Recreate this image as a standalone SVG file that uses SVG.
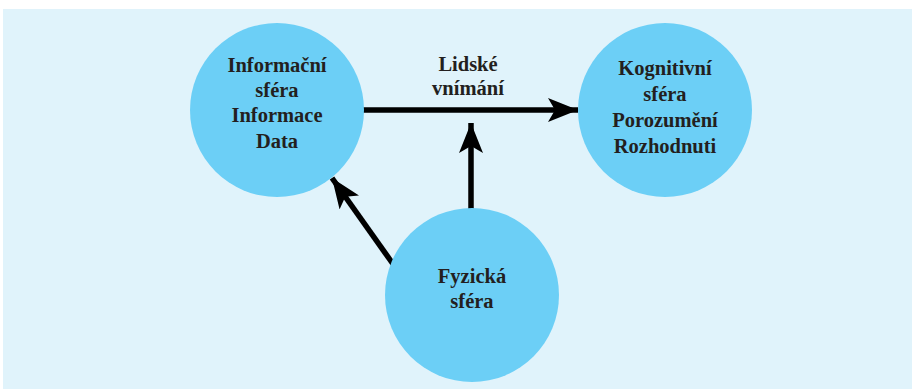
<svg xmlns="http://www.w3.org/2000/svg" width="912" height="389" viewBox="0 0 912 389">
<style>
.n{fill:#6ccff6}
.t{font-family:"Liberation Serif","Times New Roman",serif;font-weight:bold;font-size:20.5px;fill:#231f20;text-anchor:middle}
.c{stroke:#000;stroke-width:5.5;fill:none}
</style>
<defs>
<marker id="ah" viewBox="0 0 30 24" refX="30" refY="12" markerWidth="30" markerHeight="24" markerUnits="userSpaceOnUse" orient="auto">
<path d="M0,0 L30,12 L0,24 L7,12 Z" fill="#000"/>
</marker>
</defs>
<rect x="3" y="9" width="909" height="380" fill="#e0f3fb"/>
<g id="connectors">
<line class="c" x1="360" y1="110" x2="578" y2="110" marker-end="url(#ah)"/>
<line class="c" x1="471" y1="210" x2="471" y2="123" marker-end="url(#ah)"/>
<line class="c" x1="393" y1="264" x2="332" y2="178" marker-end="url(#ah)"/>
</g>
<g id="informacni">
<circle class="n" cx="277" cy="110" r="87"/>
<text class="t" x="277" y="72">Informační</text>
<text class="t" x="277" y="97">sféra</text>
<text class="t" x="277" y="122">Informace</text>
<text class="t" x="277" y="148">Data</text>
</g>
<g id="kognitivni">
<circle class="n" cx="665" cy="110" r="87"/>
<text class="t" x="665" y="75">Kognitivní</text>
<text class="t" x="665" y="101">sféra</text>
<text class="t" x="665" y="127">Porozumění</text>
<text class="t" x="665" y="153">Rozhodnuti</text>
</g>
<g id="fyzicka">
<circle class="n" cx="472" cy="295" r="87"/>
<text class="t" x="472" y="283">Fyzická</text>
<text class="t" x="472" y="308">sféra</text>
</g>
<g id="label">
<text class="t" x="468" y="71">Lidské</text>
<text class="t" x="468" y="95">vnímání</text>
</g>
</svg>
